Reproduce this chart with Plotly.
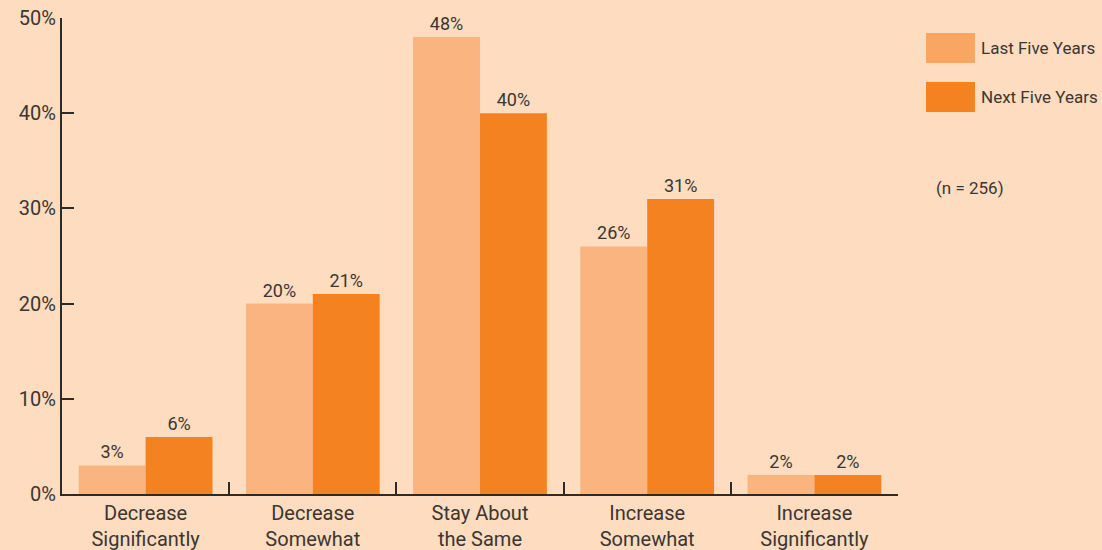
import plotly.graph_objects as go

categories = ["Decrease<br>Significantly", "Decrease<br>Somewhat", "Stay About<br>the Same",
              "Increase<br>Somewhat", "Increase<br>Significantly"]
last_five = [3, 20, 48, 26, 2]
next_five = [6, 21, 40, 31, 2]
y_ticks = [0, 10, 20, 30, 40, 50]
y_tick_labels = ["0%", "10%", "20%", "30%", "40%", "50%"]

FONT = "Roboto, Liberation Sans, sans-serif"
TEXT = "#3a3632"
AXIS = "#2e2a27"
BG = "#FDDCC0"
LIGHT = "#F9B47F"
DARK = "#F58220"
LIGHT_KEY = "#F9A663"


def pct_labels(values):
    return [f"{v}%" for v in values]


fig = go.Figure()
fig.add_trace(go.Bar(x=categories, y=last_five, name="Last Five Years", marker_color=LIGHT,
                     marker_line_width=0, text=pct_labels(last_five), texttemplate="%{text}",
                     textposition="outside",
                     textfont=dict(size=18, color=TEXT, family=FONT), cliponaxis=False))
fig.add_trace(go.Bar(x=categories, y=next_five, name="Next Five Years", marker_color=DARK,
                     marker_line_width=0, text=pct_labels(next_five), texttemplate="%{text}",
                     textposition="outside",
                     textfont=dict(size=18, color=TEXT, family=FONT), cliponaxis=False))

fig.update_layout(
    width=1102, height=550,
    margin=dict(l=62, r=204, t=18, b=56),
    paper_bgcolor=BG, plot_bgcolor=BG,
    barmode="group", bargap=0.2, bargroupgap=0,
    showlegend=False,
    font=dict(family=FONT, color=TEXT, size=20),
)
fig.update_xaxes(
    automargin=False,
    showline=True, linecolor=AXIS, linewidth=2,
    ticks="inside", tickson="boundaries", ticklen=12, tickwidth=2, tickcolor=AXIS,
    tickfont=dict(size=20, color=TEXT, family=FONT), showgrid=False,
)
fig.update_yaxes(
    automargin=False,
    range=[0, 50], tickvals=y_ticks, ticktext=y_tick_labels,
    showline=True, linecolor=AXIS, linewidth=2,
    ticks="inside", ticklen=12, tickwidth=2, tickcolor=AXIS,
    tickfont=dict(size=20, color=TEXT, family=FONT), showgrid=False, zeroline=False,
)

# Legend keys drawn as large swatches to the right of the plot
keys = [("Last Five Years", LIGHT_KEY, 33), ("Next Five Years", DARK, 82)]
for label, color, top in keys:
    fig.add_shape(type="rect", xref="paper", yref="paper",
                  x0=(926 - 62) / 836, x1=(975 - 62) / 836,
                  y0=1 - (top + 30 - 18) / 476, y1=1 - (top - 18) / 476,
                  fillcolor=color, line_width=0)
    fig.add_annotation(xref="paper", yref="paper", x=(979 - 62) / 836, y=1 - (top + 15 - 18) / 476,
                       text=label, showarrow=False, xanchor="left", yanchor="middle",
                       font=dict(size=17, color=TEXT, family=FONT))

fig.add_annotation(xref="paper", yref="paper", x=(934 - 62) / 836, y=1 - (188 - 18) / 476,
                   text="(n = 256)", showarrow=False, xanchor="left", yanchor="middle",
                   font=dict(size=17, color=TEXT, family=FONT))

fig.write_html("out.html")
